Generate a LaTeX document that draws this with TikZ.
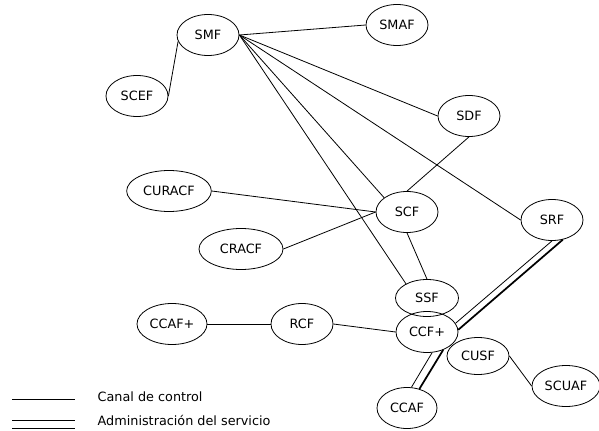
\documentclass[tikz,border=0pt]{standalone}
\usepackage{fontspec}
\setmainfont{DejaVu Sans}
\usetikzlibrary{shapes.geometric, positioning}

\begin{document}
\begin{tikzpicture}[
    x=0.75pt, y=-0.75pt,
    every node/.style={font=\fontsize{9.6}{11.5}\selectfont},
    funcnode/.style={ellipse, draw=black, line width=0.6pt, inner sep=0pt, minimum width=46.5pt, minimum height=30.75pt},
    widenode/.style={funcnode, minimum width=63.5pt},
    ctrl/.style={line width=0.6pt},
    admin/.style={line width=1.3pt},
    legend/.style={anchor=west}
]
\useasboundingbox (0,0) rectangle (599,431);

% Functional entities
\node[funcnode] (smf) at (208,35) {SMF};
\node[funcnode] (smaf) at (397,25) {SMAF};
\node[funcnode] (scef) at (137,96) {SCEF};
\node[funcnode] (sdf) at (469,116) {SDF};
\node[funcnode] (scf) at (407,212) {SCF};
\node[funcnode] (srf) at (552,220) {SRF};
\node[widenode] (curacf) at (169,191) {CURACF};
\node[widenode, minimum width=63pt] (cracf) at (241,249) {CRACF};
\node[funcnode, minimum width=47.25pt, minimum height=27.75pt] (ssf) at (427,298) {SSF};
\node[funcnode] (ccfp) at (427,332) {CCF+};
\node[funcnode, minimum width=52.5pt] (ccafp) at (172,324) {CCAF+};
\node[funcnode] (rcf) at (302,324) {RCF};
\node[funcnode, minimum height=27.75pt] (cusf) at (478,356) {CUSF};
\node[funcnode, minimum width=51pt] (scuaf) at (566,386) {SCUAF};
\node[funcnode, minimum width=45pt] (ccaf) at (407,408) {CCAF};

% Control channel
\draw[ctrl] (scef.east) -- (smf.192);
\draw[ctrl] (smf.east) -- (smaf.west);
\draw[ctrl] (smf.east) -- (sdf.west);
\draw[ctrl] (smf.east) -- (scf.148);
\draw[ctrl] (smf.east) -- (srf.west);
\draw[ctrl] (smf.east) -- (ssf.146);
\draw[ctrl] (sdf.south) -- (scf.north);
\draw[ctrl] (curacf.east) -- (scf.west);
\draw[ctrl] (cracf.east) -- (scf.west);
\draw[ctrl] (scf.south) -- (ssf.north);
\draw[ctrl] (ccafp.east) -- (rcf.west);
\draw[ctrl] (rcf.east) -- (ccfp.west);
\draw[ctrl] (cusf.east) -- (scuaf.west);

% Service management (double link)
\draw[ctrl] (srf.south) -- (ccfp.17);
\draw[admin] (srf.-61) -- (ccfp.4);
\draw[ctrl] (ccfp.-76) -- (ccaf.78);
\draw[admin] (ccfp.-48) -- (ccaf.57);

% Legend
\coordinate (lc1) at (12,399);
\coordinate (lc2) at (75,399);
\coordinate (la1) at (12,420.5);
\coordinate (la2) at (75,420.5);
\coordinate (la3) at (12,428);
\coordinate (la4) at (75,428);
\draw[ctrl] (lc1) -- (lc2);
\draw[ctrl] (la1) -- (la2);
\draw[ctrl] (la3) -- (la4);
\node[legend] (legctrl) at (93,397) {Canal de control};
\node[legend] (legadmin) at (93,420) {Administración del servicio};

\end{tikzpicture}
\end{document}
